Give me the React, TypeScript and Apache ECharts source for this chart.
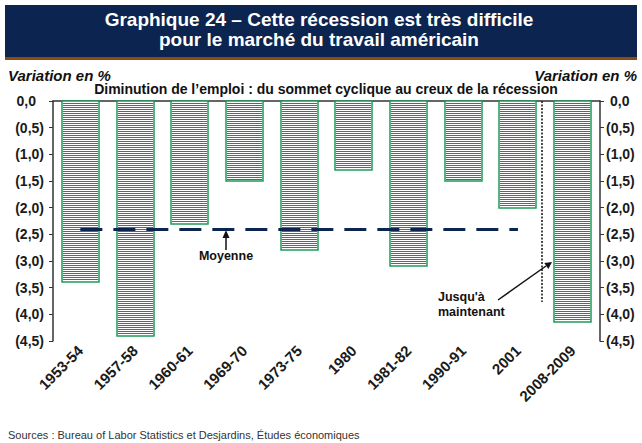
import React, { useEffect, useRef } from "react";
import * as echarts from "echarts";

const categories = ["1953-54", "1957-58", "1960-61", "1969-70", "1973-75", "1980", "1981-82", "1990-91", "2001", "2008-2009"];
const declines = [-3.4, -4.4, -2.3, -1.5, -2.8, -1.3, -3.1, -1.5, -2.0, -4.15];
const meanDecline = -2.4;
const meanFrom = "1953-54";
const meanTo = "2001";
const yMin = -4.5;
const yMax = 0;
const yStep = 0.5;

const titleLines = ["Graphique 24 – Cette récession est très difficile", "pour le marché du travail américain"];
const subtitle = "Diminution de l’emploi : du sommet cyclique au creux de la récession";
const axisName = "Variation en %";
const sourceText = "Sources : Bureau of Labor Statistics et Desjardins, Études économiques";

const FONT = "'Liberation Sans', Arial, sans-serif";
const GREEN = "#13934a";
const BORDER = "#1f9a58";
const NAVY = "#0c2550";
const BAR_W = 37;

function fmt(v: number) {
  const s = Math.abs(v).toFixed(1).replace(".", ",");
  return v < 0 ? "(" + s + ")" : s;
}

export default function App() {
  const ref = useRef<HTMLDivElement>(null);
  useEffect(() => {
    const chart = echarts.init(ref.current!, null, { renderer: "svg" });
    const labelBase = { fontFamily: FONT, fontWeight: "bold" as const, fontSize: 14, color: "#1a1a1a" };
    const renderBar = (_params: any, api: any) => {
      const idx = api.value(0);
      const val = api.value(1);
      const p0 = api.coord([idx, 0]);
      const p1 = api.coord([idx, val]);
      const x = Math.round(p0[0] - BAR_W / 2);
      const yTop = Math.round(p0[1]);
      const yBot = Math.round(p1[1]);
      const children: any[] = [
        { type: "rect", shape: { x, y: yTop, width: BAR_W, height: yBot - yTop }, style: { fill: "#fff", stroke: BORDER, lineWidth: 1.5 } },
      ];
      for (let y = yTop + 2; y < yBot - 1; y += 2) {
        children.push({ type: "rect", shape: { x: x + 1, y, width: BAR_W - 2, height: 1 }, style: { fill: GREEN } });
      }
      return { type: "group", children };
    };
    const option: any = {
      animation: false,
      grid: { left: 53, right: 42, top: 101, bottom: 102, containLabel: false },
      xAxis: {
        type: "category",
        data: categories,
        axisLine: { show: true, lineStyle: { color: "#333", width: 1.5 } },
        axisTick: { show: false },
        axisLabel: { rotate: 45, margin: 7, fontFamily: FONT, fontWeight: "bold", fontSize: 15, color: "#1a1a1a", interval: 0 },
      },
      yAxis: [
        {
          type: "value",
          min: yMin,
          max: yMax,
          interval: yStep,
          position: "left",
          axisLine: { show: true, lineStyle: { color: "#333", width: 1.5 } },
          axisTick: { show: true, length: 4, lineStyle: { color: "#333", width: 1 } },
          splitLine: { show: false },
          axisLabel: {
            margin: 9,
            ...labelBase,
            formatter: (v: number) => (v < 0 ? "{n|" + fmt(v) + "}" : "{p|" + fmt(v) + "}"),
            rich: { n: { ...labelBase }, p: { ...labelBase, padding: [0, 8, 0, 0] } },
          },
        },
        {
          type: "value",
          min: yMin,
          max: yMax,
          interval: yStep,
          position: "right",
          axisLine: { show: true, lineStyle: { color: "#333", width: 1.5 } },
          axisTick: { show: true, length: 4, lineStyle: { color: "#333", width: 1 } },
          splitLine: { show: false },
          axisLabel: {
            margin: 6,
            ...labelBase,
            formatter: (v: number) => (v < 0 ? "{n|" + fmt(v) + "}" : "{p|" + fmt(v) + "}"),
            rich: { n: { ...labelBase }, p: { ...labelBase, padding: [0, 0, 0, 4] } },
          },
        },
      ],
      series: [
        {
          type: "custom",
          renderItem: renderBar,
          data: declines.map((v, i) => [i, v]),
          encode: { x: 0, y: 1 },
          z: 2,
        },
        {
          type: "line",
          data: [],
          z: 5,
          markLine: {
            silent: true,
            symbol: ["none", "none"],
            label: { show: false },
            lineStyle: { type: [22, 11], width: 3, color: NAVY },
            data: [[{ coord: [meanFrom, meanDecline] }, { coord: [meanTo, meanDecline] }]],
          },
        },
      ],
      graphic: [
        { type: "rect", shape: { x: 5, y: 5, width: 632, height: 52 }, style: { fill: NAVY } },
        { type: "rect", shape: { x: 5, y: 57, width: 632, height: 3 }, style: { fill: "#8a4a12" } },
        { type: "text", x: 319, y: 19, style: { text: titleLines[0], fill: "#fff", font: "bold 19px " + FONT, textAlign: "center", textVerticalAlign: "middle" } },
        { type: "text", x: 319, y: 39, style: { text: titleLines[1], fill: "#fff", font: "bold 19px " + FONT, textAlign: "center", textVerticalAlign: "middle" } },
        { type: "text", x: 8, y: 75, style: { text: axisName, fill: "#111", font: "italic bold 15px " + FONT, textAlign: "left", textVerticalAlign: "middle" } },
        { type: "text", x: 637, y: 75, style: { text: axisName, fill: "#111", font: "italic bold 15px " + FONT, textAlign: "right", textVerticalAlign: "middle" } },
        { type: "text", x: 326, y: 89, style: { text: subtitle, fill: "#111", font: "bold 14px " + FONT, textAlign: "center", textVerticalAlign: "middle" } },
        // Moyenne arrow
        { type: "line", shape: { x1: 226, y1: 250, x2: 226, y2: 236 }, style: { stroke: "#111", lineWidth: 1.5 } },
        { type: "polygon", shape: { points: [[226, 230], [222.5, 238], [229.5, 238]] }, style: { fill: "#111" } },
        { type: "text", x: 226, y: 256, style: { text: "Moyenne", fill: "#111", font: "bold 12.5px " + FONT, textAlign: "center", textVerticalAlign: "middle" } },
        // dotted separator
        { type: "line", shape: { x1: 542, y1: 101, x2: 542, y2: 302 }, style: { stroke: "#111", lineWidth: 1.5, lineDash: [2, 1.5] } },
        // Jusqu'à arrow
        { type: "line", shape: { x1: 498, y1: 300, x2: 546, y2: 266 }, style: { stroke: "#111", lineWidth: 1.5 } },
        { type: "polygon", shape: { points: [[552, 262], [548.3, 268.9], [544.3, 263.1]] }, style: { fill: "#111" } },
        { type: "text", x: 438, y: 297, style: { text: "Jusqu'à", fill: "#111", font: "bold 12.5px " + FONT, textAlign: "left", textVerticalAlign: "middle" } },
        { type: "text", x: 438, y: 312, style: { text: "maintenant", fill: "#111", font: "bold 12.5px " + FONT, textAlign: "left", textVerticalAlign: "middle" } },
        { type: "text", x: 8, y: 435, style: { text: sourceText, fill: "#333", font: "11px " + FONT, textAlign: "left", textVerticalAlign: "middle" } },
      ],
    };
    chart.setOption(option);
    return () => chart.dispose();
  }, []);
  return <div ref={ref} style={{ width: 642, height: 443, position: "absolute", left: 0, top: 0, background: "#fff" }} />;
}
